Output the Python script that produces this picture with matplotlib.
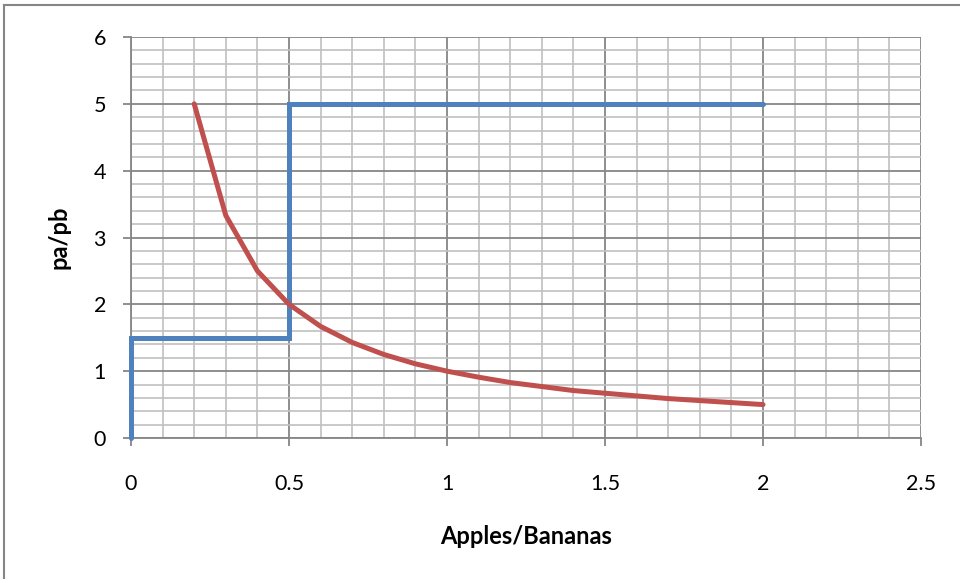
import matplotlib
matplotlib.use("Agg")
import matplotlib.pyplot as plt
from matplotlib.ticker import MultipleLocator
from matplotlib.lines import Line2D

blue_x = [0, 0, 0.5, 0.5, 2]
blue_y = [0, 1.5, 1.5, 5, 5]
red_x = [0.2, 0.3, 0.4, 0.5, 0.6, 0.7, 0.8, 0.9, 1.0, 1.1, 1.2, 1.3, 1.4, 1.5, 1.6, 1.7, 1.8, 1.9, 2.0]
red_y = [5, 3.33, 2.5, 2, 1.67, 1.43, 1.25, 1.11, 1, 0.91, 0.83, 0.77, 0.71, 0.67, 0.63, 0.59, 0.56, 0.53, 0.5]
x_ticks = [0, 0.5, 1, 1.5, 2, 2.5]
y_ticks = [0, 1, 2, 3, 4, 5, 6]

plt.rcParams['font.family'] = ['Lato', 'DejaVu Sans']

fig = plt.figure(figsize=(9.6, 5.79), dpi=100)
ax = fig.add_axes([131/960, 1-438/579, (921-131)/960, (438-37)/579])

ax.set_xlim(0, 2.5)
ax.set_ylim(0, 6)
ax.set_xticks(x_ticks)
ax.set_xticklabels([f"{t:g}" for t in x_ticks])
ax.set_yticks(y_ticks)
ax.xaxis.set_minor_locator(MultipleLocator(0.1))
ax.yaxis.set_minor_locator(MultipleLocator(0.2))
ax.grid(which='minor', color='#c0c0c0', linewidth=1.2, zorder=0)
ax.grid(which='major', color='#868686', linewidth=1.3, zorder=0)
ax.set_axisbelow(True)
ax.tick_params(which='major', length=6, width=1.3, color='#868686', labelsize=15.5)
ax.tick_params(axis='x', which='major', pad=20)
ax.tick_params(axis='y', which='major', pad=12)
ax.tick_params(which='minor', length=0)
for s in ['top', 'right']:
    ax.spines[s].set_visible(False)
for s in ['left', 'bottom']:
    ax.spines[s].set_color('#868686')
    ax.spines[s].set_linewidth(1.3)

ax.plot(blue_x, blue_y, color='#4F81BD', linewidth=3.6, solid_capstyle='round', solid_joinstyle='miter', zorder=3, clip_on=False)
ax.plot(red_x, red_y, color='#C0504D', linewidth=3.6, solid_capstyle='round', zorder=4, clip_on=False)

ax.set_xlabel('Apples/Bananas', fontsize=17, fontweight='bold')
ax.xaxis.set_label_coords(0.5, (438-525)/401)
ax.set_ylabel('pa/pb', fontsize=17, fontweight='bold')
ax.yaxis.set_label_coords((70-131)/790, 0.5)

# outer chart frame
fig.add_artist(Line2D([4/960, 4/960], [0, 1-5/579], transform=fig.transFigure, color='#868686', linewidth=1.5))
fig.add_artist(Line2D([4/960, 1], [1-5/579, 1-5/579], transform=fig.transFigure, color='#868686', linewidth=1.5))

fig.savefig('out.png', dpi=100)
